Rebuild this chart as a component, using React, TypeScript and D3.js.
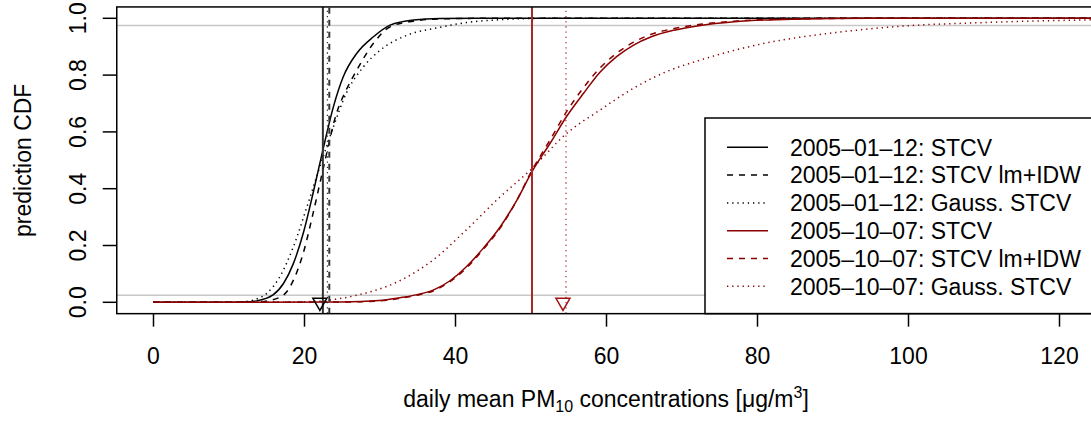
import React, { useEffect, useRef } from "react";
import * as d3 from "d3";

// values
const legendLabels = [
  "2005\u201301\u201312: STCV",
  "2005\u201301\u201312: STCV lm+IDW",
  "2005\u201301\u201312: Gauss. STCV",
  "2005\u201310\u201307: STCV",
  "2005\u201310\u201307: STCV lm+IDW",
  "2005\u201310\u201307: Gauss. STCV",
];

const xTicks = [0, 20, 40, 60, 80, 100, 120];
const yTicks = [0, 0.2, 0.4, 0.6, 0.8, 1.0];
const refLevels = [0.025, 0.975];

const janSolidX = [0, 10, 12, 13.7, 15.9, 17.3, 18.6, 19.9, 21.2, 22.5, 23.9, 25.2, 27.0, 29.2, 31.4, 34.5, 38, 45, 125];
const janSolidY = [0, 0, 0.001, 0.005, 0.026, 0.067, 0.137, 0.243, 0.384, 0.536, 0.689, 0.794, 0.877, 0.935, 0.976, 0.994, 0.999, 1, 1];

const janDashX = [0, 12, 13.5, 15.1, 17.3, 18.6, 19.9, 21.2, 22.6, 24.3, 25.6, 27.0, 29.2, 31.4, 34.5, 38, 45, 125];
const janDashY = [0, 0, 0.001, 0.005, 0.026, 0.078, 0.173, 0.313, 0.477, 0.665, 0.748, 0.818, 0.912, 0.97, 0.99, 0.998, 1, 1];

const janDotX = [0, 10, 12, 13.3, 15.1, 16.8, 18.6, 20.4, 22.1, 23.9, 25.6, 27.9, 30.1, 33.6, 38.0, 41.5, 46, 52, 125];
const janDotY = [0, 0, 0.002, 0.008, 0.032, 0.09, 0.196, 0.337, 0.477, 0.618, 0.736, 0.83, 0.888, 0.94, 0.968, 0.985, 0.995, 1, 1];

const octSolidX = [0, 25, 30, 32.7, 35, 37.1, 39.3, 41.5, 43.7, 46.0, 48.2, 50.2, 52.6, 54.8, 57.0, 59.2, 61.4, 63.6, 66, 69, 72.5, 77, 85, 95, 125];
const octSolidY = [0, 0.001, 0.006, 0.016, 0.027, 0.043, 0.075, 0.125, 0.189, 0.266, 0.36, 0.46, 0.56, 0.655, 0.735, 0.81, 0.865, 0.905, 0.935, 0.958, 0.975, 0.988, 0.997, 1, 1];

const octDashX = [0, 25, 30, 32.7, 35, 37.1, 39.3, 41.5, 43.7, 46.0, 48.2, 50.2, 52.6, 54.8, 57.0, 59.2, 61.4, 63.6, 66, 69, 72.5, 77, 85, 95, 125];
const octDashY = [0, 0.001, 0.005, 0.014, 0.025, 0.04, 0.072, 0.12, 0.185, 0.262, 0.36, 0.465, 0.572, 0.672, 0.755, 0.825, 0.877, 0.915, 0.944, 0.964, 0.979, 0.99, 0.998, 1, 1];

const octDotX = [0, 18, 22, 24, 27, 29.2, 33, 37.1, 41.5, 46.0, 50.0, 54.8, 59.2, 63.6, 68.0, 72.5, 81, 88, 93.5, 99, 110, 125];
const octDotY = [0, 0.001, 0.004, 0.01, 0.025, 0.04, 0.08, 0.149, 0.255, 0.372, 0.466, 0.595, 0.677, 0.753, 0.812, 0.853, 0.912, 0.942, 0.959, 0.972, 0.985, 0.995];

// vertical markers for each series, and observed values
const markerValues = [22.5, 23.35, 23.1, 50.2, 50.2, 54.7];
const observedValues = [22.1, 54.3];

const FONT = "'Liberation Sans', Arial, Helvetica, sans-serif";
const BLACK = "#000";
const RED = "#8b0000";

export default function App() {
  const ref = useRef<SVGSVGElement>(null);

  useEffect(() => {
    const svg = d3.select(ref.current);
    svg.selectAll("*").remove();

    const x = d3.scaleLinear().domain([0, 120]).range([153, 1059]);
    const y = d3.scaleLinear().domain([0, 1]).range([302.3, 18.3]);
    const xl = -4.8, xr = 124.8, yb = -0.04, yt = 1.04;

    const series = [
      { xs: janSolidX, ys: janSolidY, color: BLACK, dash: null },
      { xs: janDashX, ys: janDashY, color: BLACK, dash: "6,6" },
      { xs: janDotX, ys: janDotY, color: BLACK, dash: "1.3,3.9" },
      { xs: octSolidX, ys: octSolidY, color: RED, dash: null },
      { xs: octDashX, ys: octDashY, color: RED, dash: "6,6" },
      { xs: octDotX, ys: octDotY, color: RED, dash: "1.3,3.9" },
    ];

    // reference levels
    svg.selectAll(".ref")
      .data(refLevels)
      .enter().append("line")
      .attr("x1", x(xl)).attr("x2", x(xr))
      .attr("y1", d => y(d)).attr("y2", d => y(d))
      .attr("stroke", "#c8c8c8")
      .attr("stroke-width", 1.5);

    const line = d3.line<[number, number]>()
      .x(d => x(d[0]))
      .y(d => y(d[1]))
      .curve(d3.curveMonotoneX);

    series.forEach(s => {
      const pts = s.xs.map((v, i) => [v, s.ys[i]] as [number, number]);
      svg.append("path")
        .attr("d", line(pts))
        .attr("fill", "none")
        .attr("stroke", s.color)
        .attr("stroke-width", 1.5)
        .attr("stroke-dasharray", s.dash);
    });

    // vertical markers
    markerValues.forEach((v, i) => {
      const s = series[i];
      svg.append("line")
        .attr("x1", x(v)).attr("x2", x(v))
        .attr("y1", y(yb)).attr("y2", y(yt))
        .attr("stroke", s.color === RED ? "#a52a2a" : "#333")
        .attr("stroke-width", s.dash === "1.3,3.9" ? 1.2 : 2)
        .attr("stroke-dasharray", s.dash);
    });

    // observed values
    const tri = d3.symbol().type(d3.symbolTriangle).size(85);
    observedValues.forEach((v, i) => {
      svg.append("path")
        .attr("d", tri())
        .attr("transform", `translate(${x(v)},${y(0)}) rotate(180)`)
        .attr("fill", "none")
        .attr("stroke", i === 0 ? BLACK : "#a01010")
        .attr("stroke-width", 1.5);
    });

    // legend
    const lx = 705, ly = 118;
    svg.append("rect")
      .attr("x", lx).attr("y", ly)
      .attr("width", 420).attr("height", y(yb) - ly)
      .attr("fill", "#fff")
      .attr("stroke", BLACK)
      .attr("stroke-width", 1.5);
    legendLabels.forEach((lab, i) => {
      const cy = 147.3 + i * 27.8;
      const s = series[i];
      svg.append("line")
        .attr("x1", 727).attr("x2", 768)
        .attr("y1", cy).attr("y2", cy)
        .attr("stroke", s.color)
        .attr("stroke-width", 1.5)
        .attr("stroke-dasharray", s.dash);
      svg.append("text")
        .attr("x", 790).attr("y", cy + 8.2)
        .attr("font-family", FONT).attr("font-size", 23)
        .text(lab);
    });

    // frame
    svg.append("rect")
      .attr("x", x(xl)).attr("y", y(yt))
      .attr("width", x(xr) - x(xl)).attr("height", y(yb) - y(yt))
      .attr("fill", "none")
      .attr("stroke", BLACK)
      .attr("stroke-width", 1.5);

    // x axis
    const xAxis = d3.axisBottom(x)
      .tickValues(xTicks)
      .tickSize(13)
      .tickPadding(21)
      .tickFormat(d => String(d));
    const gx = svg.append("g")
      .attr("transform", `translate(0,${y(yb)})`)
      .call(xAxis);
    gx.select(".domain").remove();
    gx.selectAll("line").attr("stroke", BLACK).attr("stroke-width", 1.5);
    gx.selectAll("text")
      .attr("font-family", FONT).attr("font-size", 23).attr("fill", BLACK);

    // y axis
    const gy = svg.append("g");
    gy.selectAll("line")
      .data(yTicks)
      .enter().append("line")
      .attr("x1", x(xl) - 14).attr("x2", x(xl))
      .attr("y1", d => y(d)).attr("y2", d => y(d))
      .attr("stroke", BLACK).attr("stroke-width", 1.5);
    gy.selectAll("text")
      .data(yTicks)
      .enter().append("text")
      .attr("transform", d => `translate(85.5,${y(d)}) rotate(-90)`)
      .attr("text-anchor", "middle")
      .attr("font-family", FONT).attr("font-size", 23)
      .text(d => d3.format(".1f")(d));

    // titles
    svg.append("text")
      .attr("transform", `translate(31,${(y(yb) + y(yt)) / 2}) rotate(-90)`)
      .attr("text-anchor", "middle")
      .attr("font-family", FONT).attr("font-size", 23)
      .text("prediction CDF");

    const xt = svg.append("text")
      .attr("x", (x(xl) + x(xr)) / 2).attr("y", 407)
      .attr("text-anchor", "middle")
      .attr("font-family", FONT).attr("font-size", 23);
    xt.append("tspan").text("daily mean PM");
    xt.append("tspan").attr("font-size", 16).attr("dy", 5).text("10");
    xt.append("tspan").attr("dy", -5).text(" concentrations [\u03bcg/m");
    xt.append("tspan").attr("font-size", 16).attr("dy", -9).text("3");
    xt.append("tspan").attr("dy", 9).text("]");
  }, []);

  return (
    <svg
      ref={ref}
      width={1091}
      height={423}
      style={{ position: "absolute", left: 0, top: 0, background: "#fff" }}
    />
  );
}
